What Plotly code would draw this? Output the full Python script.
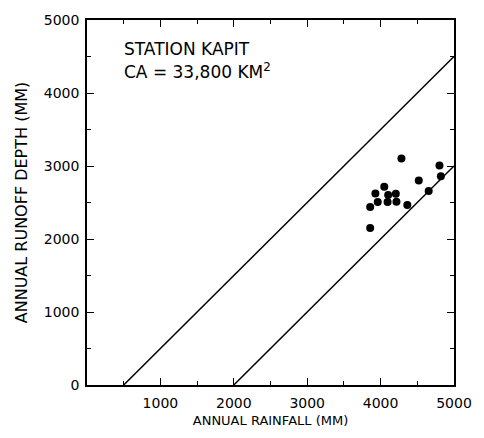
import plotly.graph_objects as go

# Data
rainfall = [4284, 4802, 4821, 4520, 4655, 4050, 3929, 4103, 4207, 3961, 4095, 4216, 4364, 3858, 3858]
runoff   = [3102, 3007, 2861, 2802, 2657, 2715, 2625, 2602, 2620, 2507, 2507, 2511, 2466, 2439, 2149]

# Envelope lines (runoff = rainfall - loss)
upper_x = [500, 5000]
upper_y = [0, 4500]
lower_x = [2000, 5000]
lower_y = [0, 3000]

x_ticks = [1000, 2000, 3000, 4000, 5000]
y_ticks = [0, 1000, 2000, 3000, 4000, 5000]

font = "DejaVu Sans"

fig = go.Figure()
fig.add_trace(go.Scatter(x=upper_x, y=upper_y, mode="lines",
                         line=dict(color="black", width=1.5), showlegend=False))
fig.add_trace(go.Scatter(x=lower_x, y=lower_y, mode="lines",
                         line=dict(color="black", width=1.5), showlegend=False))
fig.add_trace(go.Scatter(x=rainfall, y=runoff, mode="markers",
                         marker=dict(color="black", size=8), showlegend=False))

axis_common = dict(
    showgrid=False, zeroline=False, showline=True, linecolor="black", linewidth=1.5,
    mirror="ticks", ticks="inside", ticklen=7, tickwidth=1.2, tickcolor="black",
    minor=dict(dtick=500, ticks="inside", ticklen=4, tickcolor="black", tickwidth=1),
    tickfont=dict(family=font, size=14, color="black"),
)

fig.update_xaxes(range=[0, 5000], tickvals=x_ticks, ticktext=[str(v) for v in x_ticks],
                 ticklabelstandoff=4,
                 title=dict(text="ANNUAL RAINFALL (MM)", font=dict(family=font, size=13, color="black"),
                            standoff=6),
                 **axis_common)
fig.update_yaxes(range=[0, 5000], tickvals=y_ticks, ticktext=[str(v) for v in y_ticks],
                 ticklabelstandoff=3,
                 title=dict(text="ANNUAL RUNOFF DEPTH (MM)", font=dict(family=font, size=16, color="black"),
                            standoff=12),
                 **axis_common)

fig.add_annotation(x=0.095, y=0.921, xref="paper", yref="paper", xanchor="left", yanchor="middle",
                   text="STATION KAPIT", showarrow=False,
                   font=dict(family=font, size=17, color="black"))
fig.add_annotation(x=0.095, y=0.861, xref="paper", yref="paper", xanchor="left", yanchor="middle",
                   text="CA = 33,800 KM<sup>2</sup>", showarrow=False,
                   font=dict(family=font, size=17, color="black"))

fig.update_layout(width=484, height=438, margin=dict(l=87, r=25, t=18, b=53),
                  paper_bgcolor="white", plot_bgcolor="white")

fig.write_html("out.html")
